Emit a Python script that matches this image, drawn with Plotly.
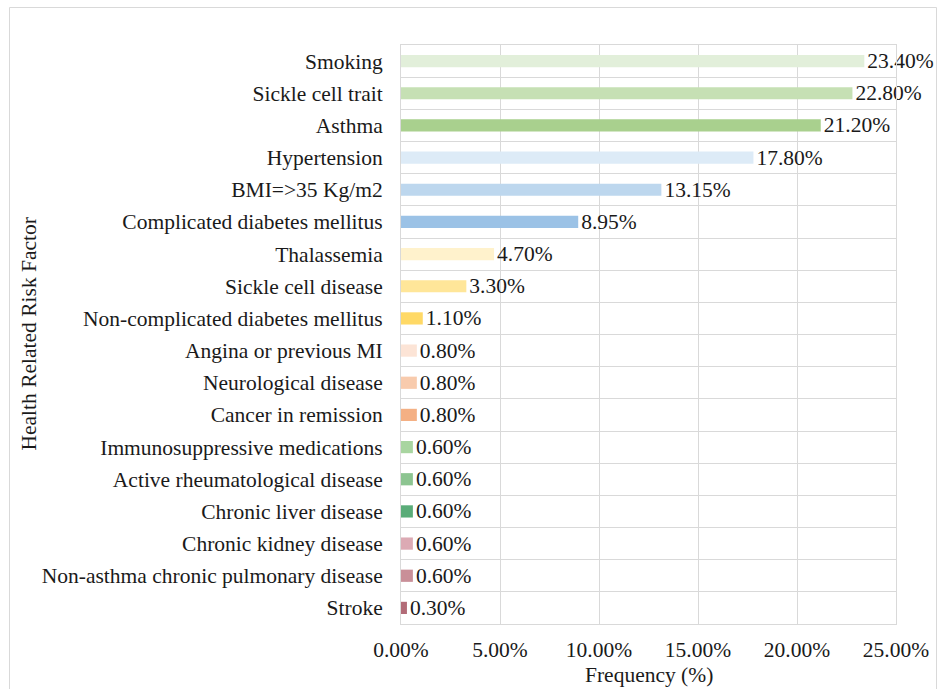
import plotly.graph_objects as go

# Health-related risk factors and their frequency (%), top to bottom
factors = [
    "Smoking",
    "Sickle cell trait",
    "Asthma",
    "Hypertension",
    "BMI=>35 Kg/m2",
    "Complicated diabetes mellitus",
    "Thalassemia",
    "Sickle cell disease",
    "Non-complicated diabetes mellitus",
    "Angina or previous MI",
    "Neurological disease",
    "Cancer in remission",
    "Immunosuppressive medications",
    "Active rheumatological disease",
    "Chronic liver disease",
    "Chronic kidney disease",
    "Non-asthma chronic pulmonary disease",
    "Stroke",
]
frequency = [23.40, 22.80, 21.20, 17.80, 13.15, 8.95, 4.70, 3.30, 1.10,
             0.80, 0.80, 0.80, 0.60, 0.60, 0.60, 0.60, 0.60, 0.30]
bar_colors = [
    "#e2efda", "#c6e0b4", "#a9d08e",
    "#ddebf7", "#bdd7ee", "#9bc2e6",
    "#fff2cc", "#ffe699", "#ffd966",
    "#fce4d6", "#f8cbad", "#f4b084",
    "#a8d5a0", "#8cc490", "#5aac78",
    "#dcaab4", "#c98f98", "#b26b77",
]
x_ticks = [0, 5, 10, 15, 20, 25]
x_tick_labels = [f"{v:.2f}%" for v in x_ticks]

positions = list(range(len(factors)))
font_family = "Liberation Serif, Times New Roman, serif"
grid_color = "#d9d9d9"
text_color = "#1a1a1a"
fs = 21.5

fig = go.Figure(
    go.Bar(
        x=frequency,
        y=positions,
        orientation="h",
        width=0.38,
        marker=dict(color=bar_colors, line=dict(width=0)),
        texttemplate="%{x:.2f}%",
        textposition="outside",
        constraintext="none",
        textfont=dict(family=font_family, size=fs, color=text_color),
        cliponaxis=False,
    )
)

fig.update_layout(
    width=942,
    height=689,
    margin=dict(l=401, r=46, t=45, b=65),
    paper_bgcolor="white",
    plot_bgcolor="white",
    showlegend=False,
    font=dict(family=font_family, size=fs, color=text_color),
    xaxis=dict(
        range=[0, 25],
        tickvals=x_ticks,
        ticktext=x_tick_labels,
        showgrid=True,
        gridcolor=grid_color,
        gridwidth=1,
        zeroline=False,
        showline=True,
        linecolor=grid_color,
        mirror=True,
        ticks="",
        ticklabelstandoff=6,
        tickfont=dict(size=fs),
        automargin=False,
    ),
    yaxis=dict(
        range=[len(factors) - 0.5, -0.5],
        tickvals=positions,
        ticktext=factors,
        showgrid=False,
        zeroline=False,
        showline=True,
        linecolor=grid_color,
        mirror=True,
        ticks="",
        ticklabelstandoff=13,
        tickfont=dict(size=fs),
        automargin=False,
        minor=dict(
            tickvals=[p + 0.5 for p in positions[:-1]],
            showgrid=True,
            gridcolor=grid_color,
            gridwidth=1,
            ticks="",
        ),
    ),
    annotations=[
        dict(
            text="Frequency (%)",
            xref="paper", yref="paper",
            x=0.5, y=-(675 - 624) / (689 - 45 - 65),
            xanchor="center", yanchor="middle",
            showarrow=False,
            font=dict(size=fs),
        ),
        dict(
            text="Health Related Risk Factor",
            xref="paper", yref="paper",
            x=-(401 - 28) / (942 - 401 - 46), y=0.5,
            xanchor="center", yanchor="middle",
            textangle=-90,
            showarrow=False,
            font=dict(size=fs),
        ),
    ],
)

# Outer chart-area border (bottom edge runs past the page), placed in pixels
plot_w = 942 - 401 - 46
plot_h = 689 - 45 - 65


def px_x(px):
    return (px - 401) / plot_w


def px_y(py):
    return (689 - 65 - py) / plot_h


fig.layout.shapes = [
    dict(
        type="path",
        xref="paper", yref="paper",
        path=(f"M {px_x(9.5)},{px_y(700)} L {px_x(9.5)},{px_y(7.5)} "
              f"L {px_x(936.5)},{px_y(7.5)} L {px_x(936.5)},{px_y(700)}"),
        line=dict(color="#d9d9d9", width=1),
    )
]

fig.write_html("out.html")
